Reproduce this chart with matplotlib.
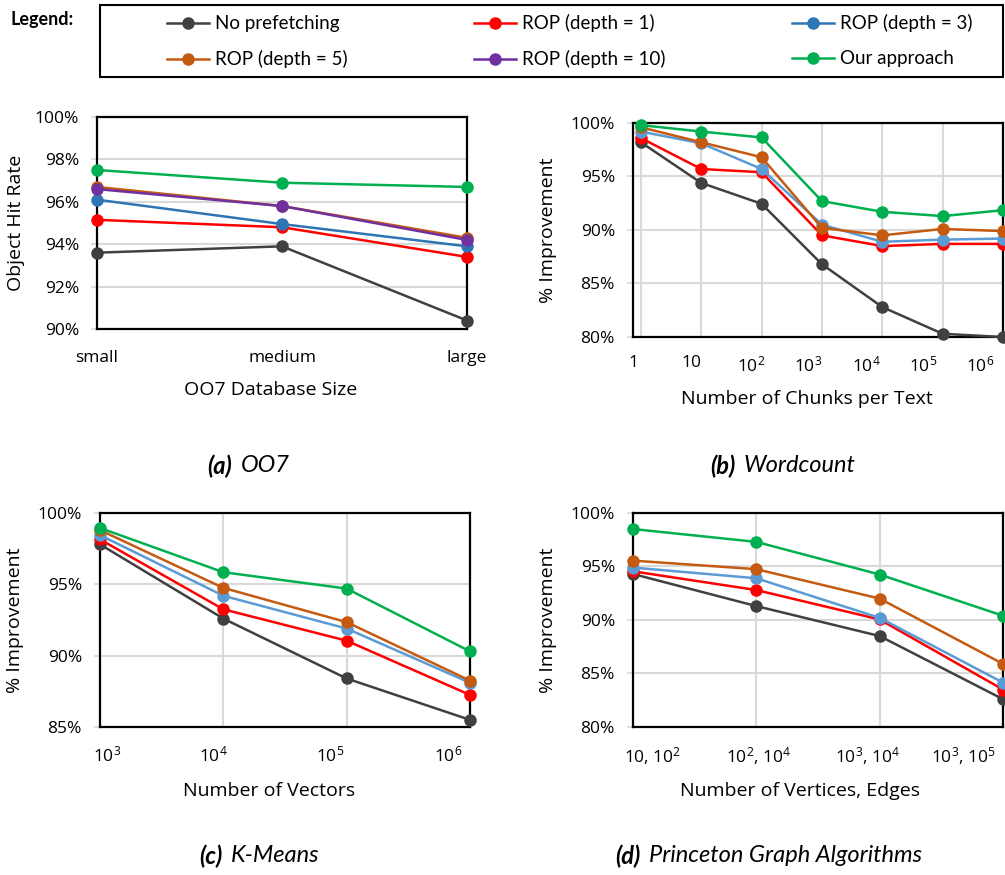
import numpy as np
import matplotlib
matplotlib.use("Agg")
import matplotlib.pyplot as plt
from matplotlib.lines import Line2D
from matplotlib.patches import Rectangle
from matplotlib.ticker import FuncFormatter

plt.rcParams['font.family'] = ['Open Sans', 'DejaVu Sans']
plt.rcParams['mathtext.fontset'] = 'custom'
plt.rcParams['mathtext.rm'] = 'Open Sans'
plt.rcParams['mathtext.it'] = 'Open Sans:italic'

series_names = ["No prefetching", "ROP (depth = 1)", "ROP (depth = 3)",
                "ROP (depth = 5)", "ROP (depth = 10)", "Our approach"]
colors = ["#404040", "#FF0000", "#2E75B6", "#C55A11", "#7030A0", "#00B050"]
light_blue = "#5B9BD5"

# (a) OO7
oo7_sizes = ["small", "medium", "large"]
oo7 = {
    "No prefetching":   [93.6, 93.9, 90.4],
    "ROP (depth = 1)":  [95.15, 94.8, 93.4],
    "ROP (depth = 3)":  [96.1, 94.95, 93.9],
    "ROP (depth = 5)":  [96.7, 95.8, 94.3],
    "ROP (depth = 10)": [96.6, 95.8, 94.2],
    "Our approach":     [97.5, 96.9, 96.7],
}

# (b) Wordcount
wc_labels = ["1", "10", r"10$^2$", r"10$^3$", r"10$^4$", r"10$^5$", r"10$^6$"]
wc = {
    "No prefetching":  [98.2, 94.4, 92.45, 86.8, 82.8, 80.3, 80.0],
    "ROP (depth = 1)": [98.6, 95.7, 95.4, 89.5, 88.5, 88.7, 88.7],
    "ROP (depth = 3)": [99.2, 98.1, 95.7, 90.5, 88.9, 89.1, 89.2],
    "ROP (depth = 5)": [99.6, 98.2, 96.8, 90.2, 89.5, 90.1, 89.9],
    "Our approach":    [99.8, 99.2, 98.65, 92.7, 91.7, 91.3, 91.85],
}

# (c) K-Means
km_labels = [r"10$^3$", r"10$^4$", r"10$^5$", r"10$^6$"]
km = {
    "No prefetching":  [97.8, 92.6, 88.4, 85.5],
    "ROP (depth = 1)": [98.15, 93.25, 91.05, 87.25],
    "ROP (depth = 3)": [98.45, 94.2, 91.9, 88.1],
    "ROP (depth = 5)": [98.8, 94.75, 92.35, 88.25],
    "Our approach":    [98.95, 95.85, 94.7, 90.3],
}

# (d) Princeton Graph Algorithms
pg_labels = [r"10, 10$^2$", r"10$^2$, 10$^4$", r"10$^3$, 10$^4$", r"10$^3$, 10$^5$"]
pg = {
    "No prefetching":  [94.3, 91.3, 88.5, 82.6],
    "ROP (depth = 1)": [94.55, 92.8, 90.05, 83.5],
    "ROP (depth = 3)": [94.9, 93.9, 90.2, 84.15],
    "ROP (depth = 5)": [95.55, 94.75, 92.0, 85.9],
    "Our approach":    [98.5, 97.3, 94.25, 90.4],
}

W, H = 1005, 875
fig = plt.figure(figsize=(W / 100, H / 100), dpi=100)


def px_axes(left, top, right, bottom):
    return fig.add_axes([left / W, 1 - bottom / H, (right - left) / W, (bottom - top) / H])


def style_axes(ax, ylim, ystep):
    ax.set_ylim(*ylim)
    ax.set_yticks(np.arange(ylim[0], ylim[1] + 0.01, ystep))
    ax.yaxis.set_major_formatter(FuncFormatter(lambda v, p: f"{v:.0f}%"))
    ax.grid(True, color="#D9D9D9", linewidth=1.5)
    ax.set_axisbelow(True)
    for s in ax.spines.values():
        s.set_linewidth(1.6)
        s.set_color("black")
    ax.tick_params(axis="y", labelsize=12.5, length=4, width=1.2, color="#D9D9D9", pad=9)
    ax.tick_params(axis="x", labelsize=12.5, length=0, pad=13)


def plot_series(ax, data, blue):
    for name, col in zip(series_names, colors):
        if name not in data:
            continue
        c = blue if name == "ROP (depth = 3)" else col
        vals = data[name]
        ax.plot(np.arange(len(vals)), vals, color=c, lw=1.8, marker="o",
                ms=8, clip_on=False, zorder=3)


def set_xlabels(ax, pos, labels, ncat):
    ax.set_xticks(pos)
    ax.set_xticklabels(labels)
    ax.set_xticks(np.arange(ncat), minor=True)
    ax.xaxis.grid(False, which="major")
    ax.xaxis.grid(True, which="minor", color="#D9D9D9", linewidth=1.5)
    ax.tick_params(axis="x", which="minor", length=0)


# (a)
ax = px_axes(97, 117, 467, 329)
plot_series(ax, oo7, colors[2])
style_axes(ax, (90, 100), 2)
ax.set_xlim(0, len(oo7_sizes) - 1)
set_xlabels(ax, np.arange(len(oo7_sizes)), oo7_sizes, len(oo7_sizes))
ax.tick_params(axis="x", pad=15)
ax.set_ylabel("Object Hit Rate", fontsize=14)
ax.yaxis.set_label_coords(-0.195, 0.5)
ax.set_xlabel("OO7 Database Size", fontsize=14, va="top")
ax.xaxis.set_label_coords(0.47, -0.245)

# (b)
ax = px_axes(633, 123, 1003, 337)
plot_series(ax, wc, light_blue)
style_axes(ax, (80, 100), 5)
ax.set_xlim(0, len(wc_labels) - 1)
set_xlabels(ax, [-0.13, 0.84, 1.82, 2.77, 3.73, 4.68, 5.62], wc_labels, len(wc_labels))
ax.set_ylabel("% Improvement", fontsize=14)
ax.yaxis.set_label_coords(-0.205, 0.5)
ax.set_xlabel("Number of Chunks per Text", fontsize=14, va="top")
ax.xaxis.set_label_coords(0.47, -0.25)

# (c)
ax = px_axes(100, 513, 470, 727)
plot_series(ax, km, light_blue)
style_axes(ax, (85, 100), 5)
ax.set_xlim(0, len(km_labels) - 1)
set_xlabels(ax, [0.06, 0.92, 1.87, 2.82], km_labels, len(km_labels))
ax.set_ylabel("% Improvement", fontsize=14)
ax.yaxis.set_label_coords(-0.205, 0.5)
ax.set_xlabel("Number of Vectors", fontsize=14, va="top")
ax.xaxis.set_label_coords(0.457, -0.255)

# (d)
ax = px_axes(633, 513, 1003, 727)
plot_series(ax, pg, light_blue)
style_axes(ax, (80, 100), 5)
ax.set_xlim(0, len(pg_labels) - 1)
set_xlabels(ax, [0.16, 1.02, 1.9, 2.68], pg_labels, len(pg_labels))
ax.set_ylabel("% Improvement", fontsize=14)
ax.yaxis.set_label_coords(-0.205, 0.5)
ax.set_xlabel("Number of Vertices, Edges", fontsize=14, va="top")
ax.xaxis.set_label_coords(0.451, -0.255)

# legend
handles = [Line2D([], [], color=c, lw=1.8, marker="o", ms=8) for c in colors]
order = [0, 3, 1, 4, 2, 5]
fig.legend([handles[i] for i in order], [series_names[i] for i in order],
           ncol=3, frameon=False, loc="upper left",
           bbox_to_anchor=(158 / W, 1 - 5 / H), borderpad=0,
           handlelength=2.2, handletextpad=0.35, columnspacing=6.75,
           labelspacing=0.95, prop={"family": "Lato", "size": 13.5})
fig.patches.append(Rectangle((100 / W, 1 - 77 / H), 903 / W, 72 / H,
                             transform=fig.transFigure, fill=False,
                             edgecolor="black", linewidth=1.5))
fig.text(10 / W, 1 - 19 / H, "Legend:", fontsize=13, fontweight="bold",
         family="Lato", va="center", ha="left")

# captions
captions = [("(a)", "OO7", 232, 466), ("(b)", "Wordcount", 735, 466),
            ("(c)", "K-Means", 222, 856), ("(d)", "Princeton Graph Algorithms", 640, 856)]
for tag, name, x, y in captions:
    fig.text(x / W, 1 - y / H, tag, fontsize=17, fontweight="bold", style="italic",
             family="Lato", ha="right", va="center")
    fig.text((x + 9) / W, 1 - y / H, name, fontsize=17, style="italic",
             family="Lato", ha="left", va="center")

fig.savefig("out.png", dpi=100)
